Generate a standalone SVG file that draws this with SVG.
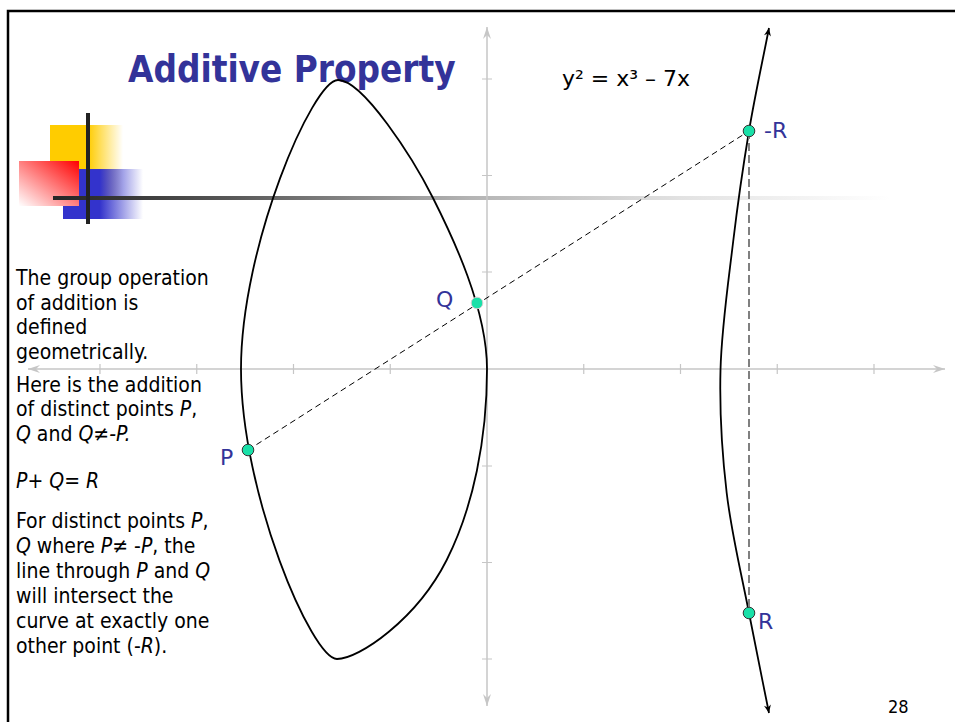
<svg xmlns="http://www.w3.org/2000/svg" width="955" height="722" viewBox="0 0 955 722">
<style>
.body{font-family:'DejaVu Sans Condensed','Liberation Sans',sans-serif;font-size:21px;fill:#000}
.it{font-style:italic}
.lbl{font-family:'DejaVu Sans','Liberation Sans',sans-serif;font-size:22px;fill:#333399}
.axis{stroke:#c6c6c6;stroke-width:1.5;fill:none}
.tick{stroke:#c6c6c6;stroke-width:1.2}
.curve{stroke:#000;stroke-width:1.8;fill:none}
.pt{fill:#19e0a8;stroke:#333;stroke-width:1}
</style>
<defs>
<linearGradient id="gY" x1="0" y1="0" x2="1" y2="0">
<stop offset="0" stop-color="#FFCC00"/><stop offset="0.52" stop-color="#FFCC00"/><stop offset="1" stop-color="#FFCC00" stop-opacity="0"/>
</linearGradient>
<linearGradient id="gB" x1="0" y1="0" x2="1" y2="0">
<stop offset="0" stop-color="#3333CC"/><stop offset="0.46" stop-color="#3333CC"/><stop offset="1" stop-color="#3333CC" stop-opacity="0"/>
</linearGradient>
<linearGradient id="gR" x1="1" y1="0" x2="0" y2="1">
<stop offset="0" stop-color="#FF0000"/><stop offset="1" stop-color="#FFFFFF"/>
</linearGradient>
<linearGradient id="gBar" gradientUnits="userSpaceOnUse" x1="53" y1="0" x2="890" y2="0">
<stop offset="0" stop-color="#262626"/><stop offset="0.08" stop-color="#363636"/><stop offset="0.22" stop-color="#5a5a5a"/><stop offset="0.5" stop-color="#b4b4b4"/><stop offset="0.75" stop-color="#e2e2e2"/><stop offset="1" stop-color="#ffffff"/>
</linearGradient>
<marker id="ga" markerUnits="userSpaceOnUse" markerWidth="14" markerHeight="10" viewBox="-13 -5 14 10" refX="0" refY="0" orient="auto-start-reverse">
<path d="M0,0 L-12,-4 L-8,0 L-12,4 Z" fill="#c6c6c6"/>
</marker>
<marker id="ba" markerUnits="userSpaceOnUse" markerWidth="10" markerHeight="10" viewBox="-9 -5 10 10" refX="0" refY="0" orient="auto-start-reverse">
<path d="M0,0 L-8,-3.5 L-5.5,0 L-8,3.5 Z" fill="#000"/>
</marker>
</defs>
<rect width="955" height="722" fill="#fff"/>
<!-- slide frame -->
<path d="M8,722 V11 H955" fill="none" stroke="#000" stroke-width="2.5"/>
<!-- decoration -->
<g id="decoration">
<rect x="50" y="125" width="73" height="73" fill="url(#gY)"/>
<rect x="63" y="169" width="80" height="50" fill="url(#gB)"/>
<rect x="19" y="161" width="60" height="45" fill="url(#gR)"/>
<rect x="53" y="196" width="837" height="4" fill="url(#gBar)"/>
<rect x="86" y="113" width="4" height="111" fill="#222"/>
</g>
<text x="128" y="82" style="font-family:'DejaVu Sans Condensed','Liberation Sans',sans-serif;font-weight:bold;font-size:36.5px;fill:#333399">Additive Property</text>
<text x="562" y="86" style="font-family:'DejaVu Sans','Liberation Sans',sans-serif;font-size:22px;fill:#000">y² = x³ – 7x</text>
<g id="body-text" class="body">
<text x="16" y="285">The group operation</text>
<text x="16" y="309.6">of addition is</text>
<text x="16" y="334.2">defined</text>
<text x="16" y="358.8">geometrically.</text>
<text x="16" y="391.5">Here is the addition</text>
<text x="16" y="416">of distinct points <tspan class="it">P</tspan>,</text>
<text x="16" y="440.5"><tspan class="it">Q</tspan> and <tspan class="it">Q</tspan>≠<tspan class="it">-P.</tspan></text>
<text x="16" y="488.3"><tspan class="it">P</tspan>+ <tspan class="it">Q</tspan>= <tspan class="it">R</tspan></text>
<text x="16" y="528.3">For distinct points <tspan class="it">P</tspan>,</text>
<text x="16" y="553.3"><tspan class="it">Q</tspan> where <tspan class="it">P</tspan>≠ -<tspan class="it">P</tspan>, the</text>
<text x="16" y="578.3">line through <tspan class="it">P</tspan> and <tspan class="it">Q</tspan></text>
<text x="16" y="603.3">will intersect the</text>
<text x="16" y="628.3">curve at exactly one</text>
<text x="16" y="653.3">other point (-<tspan class="it">R</tspan>).</text>
</g>
<!-- axes -->
<g id="axes">
<line class="axis" x1="28" y1="369" x2="945" y2="369" marker-start="url(#ga)" marker-end="url(#ga)"/>
<line class="axis" x1="487" y1="27" x2="487" y2="706" marker-start="url(#ga)" marker-end="url(#ga)"/>
<path class="tick" d="M100,364v10M196.75,364v10M293.5,364v10M390.25,364v10M583.75,364v10M680.5,364v10M777.25,364v10M874,364v10"/>
<path class="tick" d="M482,79h10M482,175.5h10M482,272h10M482,466h10M482,562.5h10M482,659h10"/>
</g>
<!-- curve -->
<g id="curve">
<path class="curve" d="M241,369 C241,246 312.7,80 338,80 C363,80 412.9,158.1 433,198 C453.1,237.9 487,309 487,369 C487,439 473.3,507.2 446.7,560 C416.7,619.4 359,659 337,659 C312,659 241,494 241,369 Z"/>
<path class="curve" d="M769,28 C762.3,62.3 755,95.2 749,131 C743,166.8 737.75,203.2 733,243 C728.25,282.8 721.55,328.3 720.5,370 C719.45,411.7 721.95,452.5 726.7,493 C731.45,533.5 741.95,576.3 749,613 C756.05,649.7 762.3,679.7 769,713" marker-start="url(#ba)" marker-end="url(#ba)"/>
</g>
<!-- connectors -->
<g id="connectors">
<line x1="248" y1="450" x2="749" y2="131" stroke="#000" stroke-width="1" stroke-dasharray="6,4"/>
<line x1="749" y1="131" x2="749" y2="613" stroke="#808080" stroke-width="2" stroke-dasharray="8,4"/>
</g>
<!-- points -->
<g id="point-P"><circle class="pt" cx="248" cy="450" r="5.8"/><text class="lbl" x="220" y="465">P</text></g>
<g id="point-Q"><circle class="pt" cx="477" cy="303" r="5.8" style="stroke:#d0d0d0"/><text class="lbl" x="436" y="307">Q</text></g>
<g id="point-negR"><circle class="pt" cx="749" cy="131" r="5.8"/><text class="lbl" x="764" y="138">-R</text></g>
<g id="point-R"><circle class="pt" cx="749" cy="613" r="5.8"/><text class="lbl" x="758" y="629">R</text></g>
<text x="888" y="713" style="font-family:'DejaVu Sans Condensed','Liberation Sans',sans-serif;font-size:18px;fill:#000">28</text>
</svg>
